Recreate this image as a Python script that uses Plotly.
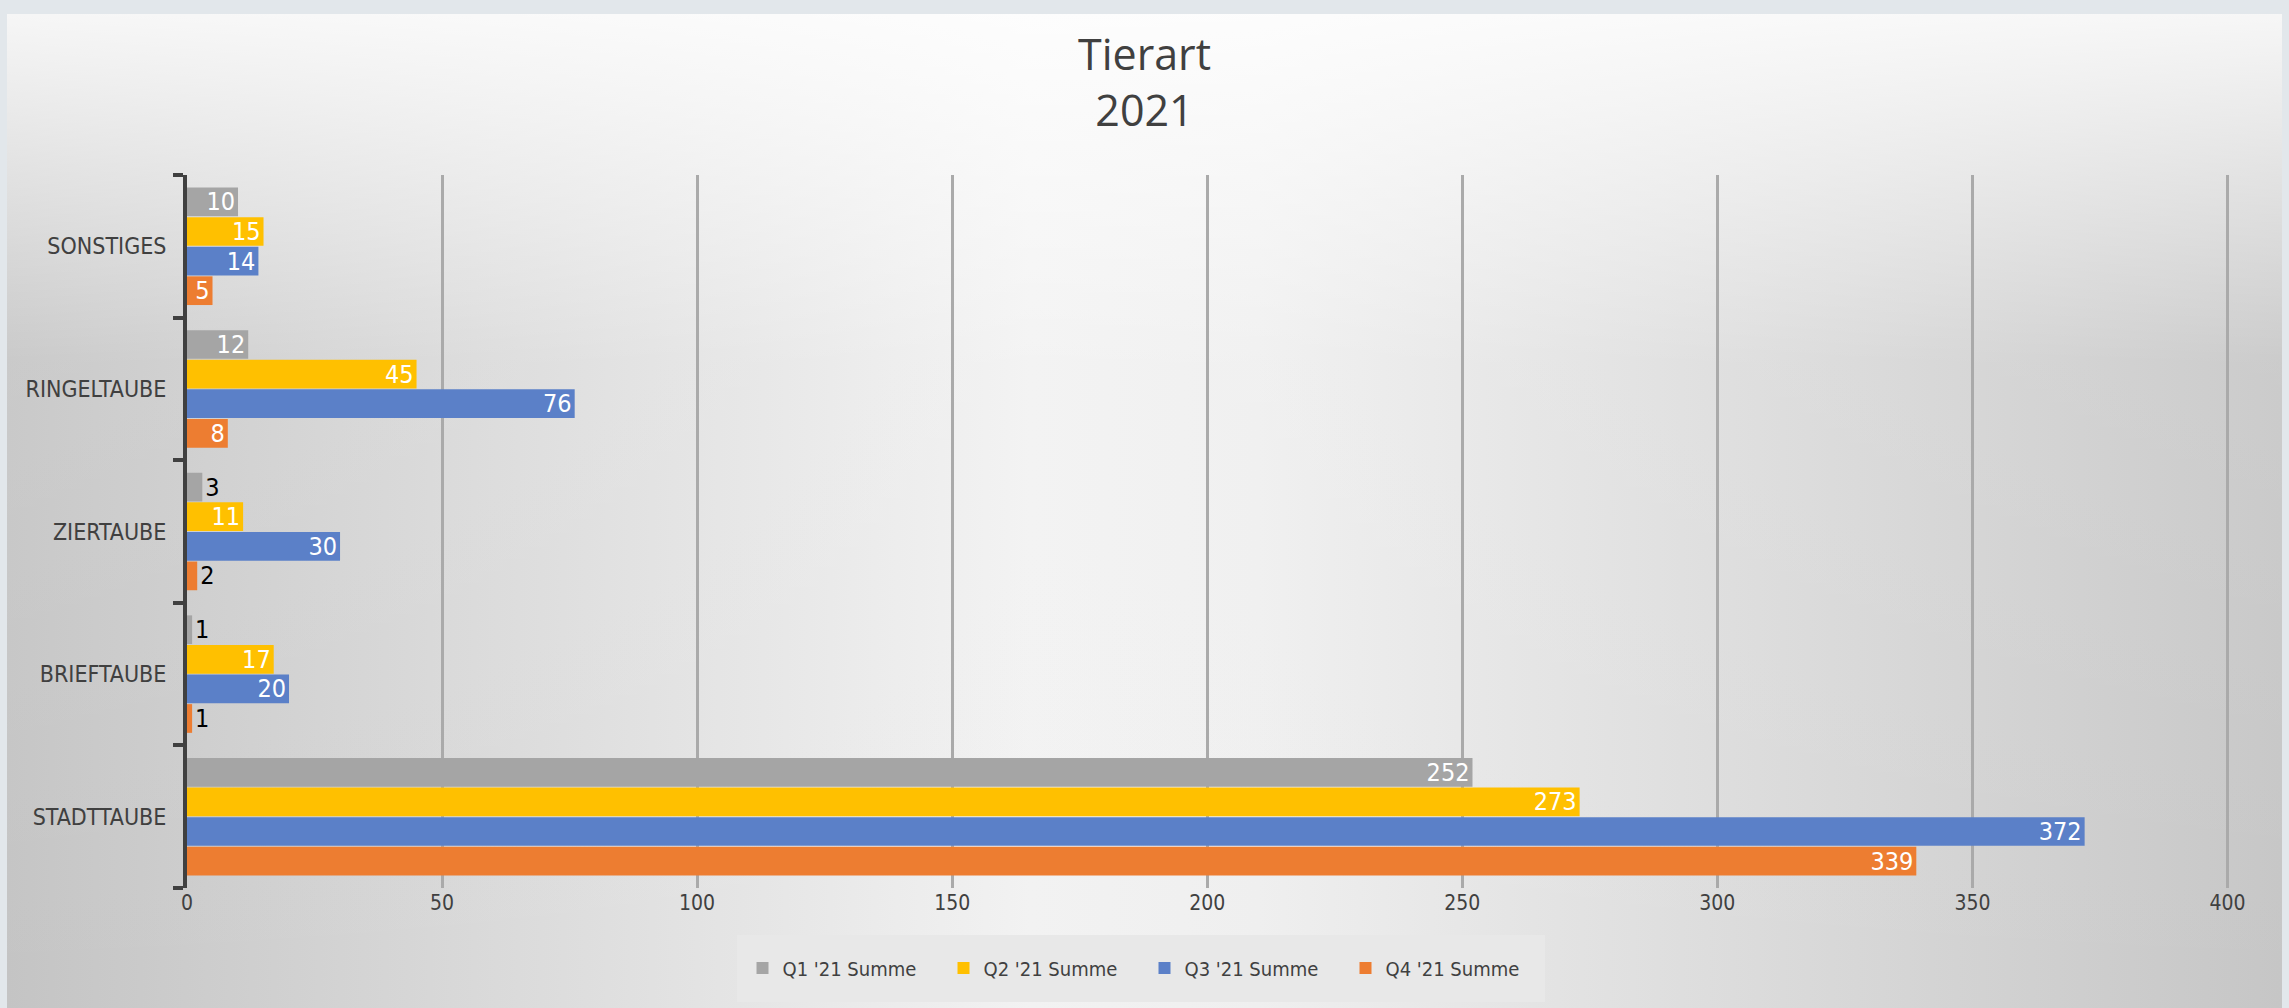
import base64
import plotly.graph_objects as go

# data
kategorien = ["STADTTAUBE", "BRIEFTAUBE", "ZIERTAUBE", "RINGELTAUBE", "SONSTIGES"]
q1 = [252, 1, 3, 12, 10]
q2 = [273, 17, 11, 45, 15]
q3 = [372, 20, 30, 76, 14]
q4 = [339, 1, 2, 8, 5]
serien = ["Q1 '21 Summe", "Q2 '21 Summe", "Q3 '21 Summe", "Q4 '21 Summe"]
x_ticks = [0, 50, 100, 150, 200, 250, 300, 350, 400]

farben = ["#a5a5a5", "#ffc000", "#5b80c8", "#ed7d31"]
NARROW = "Liberation Sans Narrow, DejaVu Sans Condensed, Roboto, sans-serif"

W, H = 2289, 1008
ml, mr, mt, mb = 187, 60, 175, 120
pw = W - ml - mr
ph = H - mt - mb


def px_x(v):
    return (v - ml) / pw


def px_y(v):
    return (H - mb - v) / ph


# background gradient as svg image
svg = """<svg xmlns='http://www.w3.org/2000/svg' width='2275' height='994' preserveAspectRatio='none'>
<defs>
<linearGradient id='h' x1='0' y1='0' x2='1' y2='0'>
<stop offset='0' stop-color='#c4c4c4'/>
<stop offset='0.45' stop-color='#f2f2f2'/>
<stop offset='0.55' stop-color='#efefef'/>
<stop offset='1' stop-color='#c6c6c6'/>
</linearGradient>
<linearGradient id='v' x1='0' y1='0' x2='0' y2='1'>
<stop offset='0' stop-color='#ffffff' stop-opacity='0.85'/>
<stop offset='0.35' stop-color='#ffffff' stop-opacity='0.1'/>
<stop offset='1' stop-color='#ffffff' stop-opacity='0'/>
</linearGradient>
</defs>
<rect width='2275' height='994' fill='url(#h)'/>
<rect width='2275' height='994' fill='url(#v)'/>
</svg>"""
bg_src = "data:image/svg+xml;base64," + base64.b64encode(svg.encode()).decode()

fig = go.Figure()

# plotly puts the first trace at the bottom of a group -> add Q4 first
for name, vals, col in reversed(list(zip(serien, [q1, q2, q3, q4], farben))):
    pos = ["inside" if v >= 5 else "outside" for v in vals]
    fig.add_trace(go.Bar(
        y=kategorien, x=vals, name=name, orientation="h",
        marker=dict(color=col, line=dict(width=0)),
        text=[str(v) for v in vals], textposition=pos,
        insidetextanchor="end", constraintext="none", cliponaxis=False,
        insidetextfont=dict(color="white", size=25, family=NARROW),
        outsidetextfont=dict(color="black", size=25, family=NARROW),
        textangle=0,
    ))

fig.update_layout(
    width=W, height=H,
    margin=dict(l=ml, r=mr, t=mt, b=mb, autoexpand=False),
    paper_bgcolor="#e2e7eb",
    plot_bgcolor="rgba(0,0,0,0)",
    barmode="group", bargap=0.17, bargroupgap=0.03,
    title=dict(text="Tierart<br>2021", x=0.5, xanchor="center",
               y=1 - 70 / H, yanchor="middle",
               font=dict(family="Open Sans, Noto Sans", size=43, color="#404040")),
    legend=dict(orientation="h", traceorder="reversed",
                x=0.5, xanchor="center", xref="container",
                y=1 - 968 / H, yanchor="middle", yref="container",
                bgcolor="rgba(0,0,0,0)", borderwidth=0,
                font=dict(family=NARROW, size=20, color="#404040"),
                entrywidth=156, entrywidthmode="pixels",
                itemwidth=30, itemsizing="constant"),
    images=[dict(source=bg_src, xref="paper", yref="paper",
                 x=px_x(7), y=px_y(14),
                 sizex=2275 / pw, sizey=994 / ph,
                 sizing="stretch", layer="below", xanchor="left", yanchor="top")],
    shapes=[dict(type="rect", xref="paper", yref="paper", layer="below",
                 x0=px_x(737), x1=px_x(1545), y0=px_y(1002), y1=px_y(935),
                 fillcolor="#e8e8e8", line=dict(width=0))],
    xaxis=dict(range=[0, 400.3], tickvals=x_ticks, showgrid=True, automargin=False,
               gridcolor="#aaaaaa", gridwidth=3, zeroline=False, showline=False,
               ticks="", tickfont=dict(family=NARROW, size=21, color="#404040")),
    yaxis=dict(showline=True, linecolor="#404040", linewidth=4, automargin=False,
               ticks="outside", tickson="boundaries", ticklen=10, tickwidth=4,
               tickcolor="#404040", showgrid=False, ticklabelstandoff=12,
               tickfont=dict(family=NARROW, size=23, color="#404040")),
)

# body default margin would shift the figure by 8px
fig.write_html("out.html", config={"displayModeBar": False},
               post_script="document.body.style.margin='0';")
